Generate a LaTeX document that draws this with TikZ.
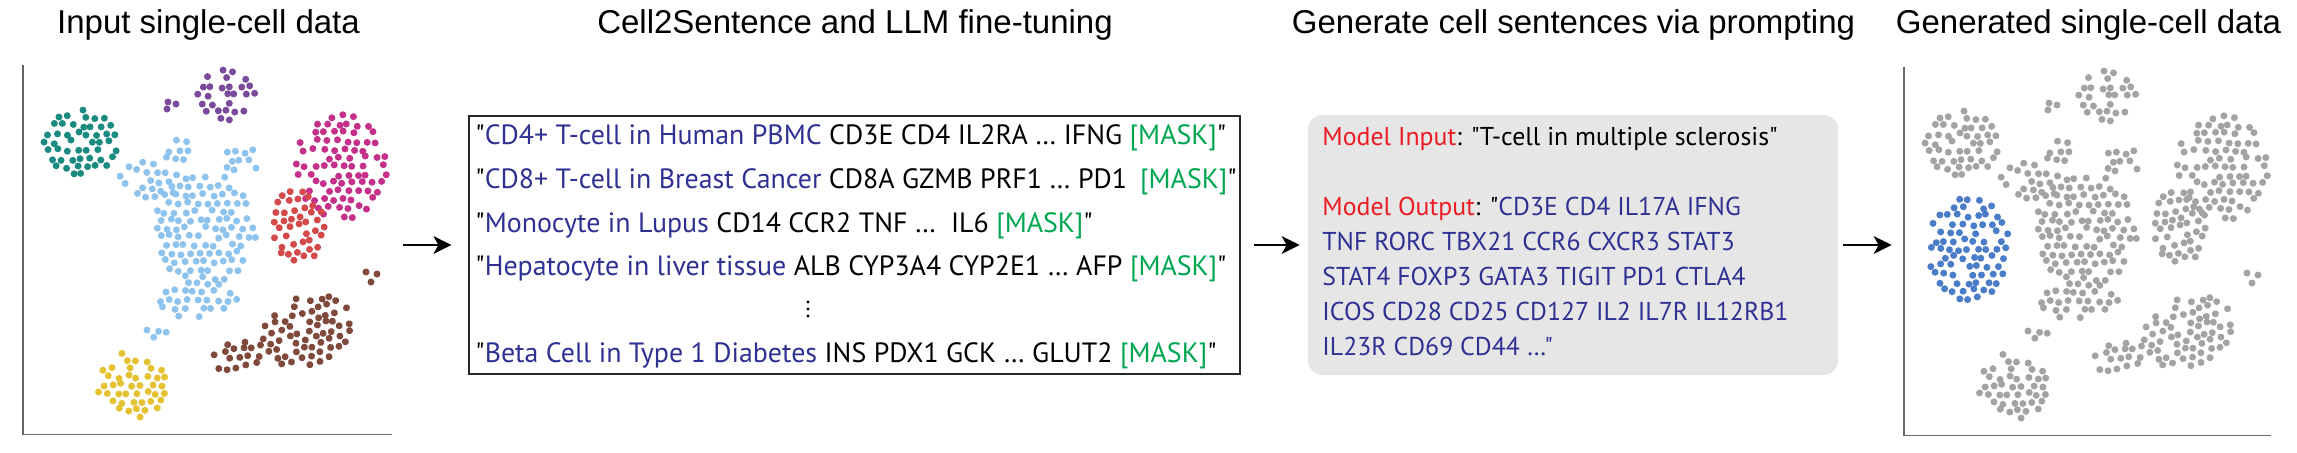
\documentclass[tikz,border=0pt]{standalone}
\usepackage{fontspec}
\setmainfont{Liberation Sans}
\newfontfamily\boxfont{PT Sans}
\usetikzlibrary{arrows.meta}
\definecolor{cteal}{RGB}{27,138,128}
\definecolor{cpurple}{RGB}{122,74,156}
\definecolor{cmagenta}{RGB}{196,48,138}
\definecolor{cred}{RGB}{212,73,74}
\definecolor{clblue}{RGB}{141,195,236}
\definecolor{cbrown}{RGB}{127,74,60}
\definecolor{cyellow}{RGB}{229,194,50}
\definecolor{cgray}{RGB}{163,163,163}
\definecolor{cdblue}{RGB}{74,124,200}
\definecolor{tblue}{RGB}{46,49,146}
\definecolor{tgreen}{RGB}{0,166,81}
\definecolor{tred}{RGB}{237,28,36}
\definecolor{boxgray}{RGB}{230,230,230}
\newcommand\txb[1]{\textcolor{tblue}{#1}}
\newcommand\txm[1]{\textcolor{tgreen}{#1}}
\newcommand\txr[1]{\textcolor{tred}{#1}}
% cluster of dots: cx, cy, rx, ry, angle, exponent, colour
\newcommand\cblob[7]{%
  \begin{scope}[shift={(#1,#2)},rotate=#5]
    \pgfmathtruncatemacro\bnx{ceil(#3/9.6)+1}%
    \pgfmathtruncatemacro\bny{ceil(#4/8.3)+1}%
    \foreach \bi in {-\bnx,...,\bnx}{%
      \foreach \bj in {-\bny,...,\bny}{%
        \pgfmathsetmacro\bu{\bi*9.6+mod(abs(\bj),2)*4.8+2.0*rand}%
        \pgfmathsetmacro\bv{\bj*8.3+2.0*rand}%
        \pgfmathsetmacro\bk{((abs(\bu)/#3+0.001)^#6+(abs(\bv)/#4+0.001)^#6<=1)&&(rand>-0.72)}%
        \ifdim\bk pt>0.5pt\fill[#7] (\bu,\bv) circle[radius=3.5];\fi
      }%
    }%
  \end{scope}}
\newcommand\cellplot[7]{%
  \pgfmathsetseed{4242}%
  \cblob{82}{142}{40}{33}{0}{2}{#1}%
  \cblob{226}{95}{30}{26}{0}{2}{#2}%
  \foreach \p in {(168,102),(176,104),(167,109)} \fill[#2] \p circle[radius=3.5];
  \cblob{343}{166}{48}{53}{0}{2}{#3}%
  \cblob{298}{225}{28}{41}{12}{2}{#4}%
  % light-blue cluster, built from parts
  \cblob{150}{180}{32}{20}{-10}{2}{#5}%
  \cblob{180}{150}{18}{13}{0}{2}{#5}%
  \cblob{240}{160}{19}{15}{0}{2}{#5}%
  \cblob{204}{228}{52}{55}{0}{2.3}{#5}%
  \cblob{198}{300}{42}{19}{0}{2}{#5}%
  \cblob{158}{330}{18}{9}{-10}{2}{#5}%
  % brown cluster
  \cblob{240}{358}{28}{17}{10}{2}{#6}%
  \cblob{307}{330}{46}{35}{20}{2.2}{#6}%
  \foreach \p in {(366,272),(377,274),(371,282)} \fill[#6] \p circle[radius=3.5];
  \cblob{132}{385}{36}{33}{0}{2}{#7}%
}
\tikzset{
  title/.style={anchor=base, inner sep=0, font=\fontsize{16.5}{20}\selectfont},
  lineA/.style={anchor=base west, inner sep=0, font=\boxfont\fontsize{13.95}{17}\selectfont},
  lineB/.style={anchor=base west, inner sep=0, font=\boxfont\fontsize{12.9}{15}\selectfont},
  axisline/.style={draw=black!60, line width=0.9pt},
  arr/.style={line width=0.7pt, -{Stealth[length=9pt,width=9pt,inset=2.5pt]}},
}
\begin{document}
\begin{tikzpicture}[x=0.5pt,y=-0.5pt]
\path[use as bounding box] (0,0) rectangle (2297,452);
% titles
\node[title] (t1) at (208.5,33) {Input single-cell data};
\node[title] (t2) at (855,33) {Cell2Sentence and LLM fine-tuning};
\node[title] (t3) at (1573.5,33) {Generate cell sentences via prompting};
\node[title] (t4) at (2088.5,33) {Generated single-cell data};
% input plot
\node[minimum width=184.5pt, minimum height=184.5pt, inner sep=0] (plotin) at (207.5,249.5) {};
\draw[axisline] (plotin.north west) |- (plotin.south east);
\cellplot{cteal}{cpurple}{cmagenta}{cred}{clblue}{cbrown}{cyellow}
% box 2
\node[draw=black!85, line width=0.6pt, minimum width=385.5pt, minimum height=129pt, inner sep=0] (box2) at (854.5,245) {};
\node[lineA] (s1) at (475,144) {"\txb{CD4+ T-cell in Human PBMC} CD3E CD4 IL2RA … IFNG \txm{[MASK]}"};
\node[lineA] (s2) at (475,188) {"\txb{CD8+ T-cell in Breast Cancer} CD8A GZMB PRF1 … PD1\hspace{0.2em} \txm{[MASK]}"};
\node[lineA] (s3) at (475,232) {"\txb{Monocyte in Lupus} CD14 CCR2 TNF … \ IL6 \txm{[MASK]}"};
\node[lineA] (s4) at (475,275) {"\txb{Hepatocyte in liver tissue} ALB CYP3A4 CYP2E1 … AFP \txm{[MASK]}"};
\foreach \yy in {302,309,316} \fill (808,\yy) circle[radius=1.6];
\node[lineA] (s6) at (475,362) {"\txb{Beta Cell in Type 1 Diabetes} INS PDX1 GCK … GLUT2 \txm{[MASK]}"};
% box 3
\node[fill=boxgray, rounded corners=7pt, minimum width=265pt, minimum height=130pt, inner sep=0] (box3) at (1573,245) {};
\node[lineB] (m1) at (1322,145) {\txr{Model Input}: "T-cell in multiple sclerosis"};
\node[lineB] (m2) at (1322,215) {\txr{Model Output}: "\txb{CD3E CD4 IL17A IFNG}};
\node[lineB] (m3) at (1322,250) {\txb{TNF RORC TBX21 CCR6 CXCR3 STAT3}};
\node[lineB] (m4) at (1322,285) {\txb{STAT4 FOXP3 GATA3 TIGIT PD1 CTLA4}};
\node[lineB] (m5) at (1322,320) {\txb{ICOS CD28 CD25 CD127 IL2 IL7R IL12RB1}};
\node[lineB] (m6) at (1322,355) {\txb{IL23R CD69 CD44 …"}};
% generated plot
\node[minimum width=183.5pt, minimum height=184pt, inner sep=0] (plotout) at (2087.5,251) {};
\draw[axisline] (plotout.north west) |- (plotout.south east);
\begin{scope}[shift={(1881,1)}]
\cellplot{cgray}{cgray}{cgray}{cgray}{cgray}{cgray}{cgray}
\pgfmathsetseed{77}
\cblob{87}{248}{42}{54}{0}{2}{cdblue}
\end{scope}
% arrows
\draw[arr, shorten <=5.5pt, shorten >=8.5pt] (plotin.east |- box2.west) -- (box2.west);
\draw[arr, shorten <=6.5pt, shorten >=4pt] (box2.east) -- (box3.west);
\draw[arr, shorten <=2.5pt, shorten >=6pt] (box3.east) -- (plotout.west |- box3.east);
\end{tikzpicture}
\end{document}
